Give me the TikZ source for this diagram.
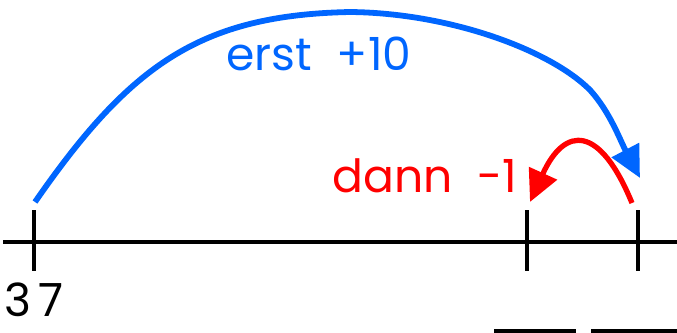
\documentclass[tikz,border=0pt]{standalone}
\usepackage{fontspec}
\setmainfont{Poppins}
\usetikzlibrary{arrows.meta}
\definecolor{jumpblue}{RGB}{0,102,255}
\definecolor{jumpred}{RGB}{255,0,0}
\tikzset{
  axis/.style={line width=2.3pt},
  jump/.style={line width=3.3pt, line cap=butt, -{Triangle[length=18pt,width=17pt]}},
  lbl/.style={font=\fontsize{26}{32}\selectfont, anchor=base, inner sep=0pt},
}
\begin{document}
\begin{tikzpicture}[x=0.02cm,y=-0.02cm]
    \useasboundingbox (0,0) rectangle (677,332);
    % Zahlenstrahl
    \draw[axis] (3,242) -- (680,242);
    \foreach \n/\x in {a/34,b/527,c/638}{
        \draw[axis] (\x,210) -- (\x,271);
    }
    \coordinate (bluestart) at (35,202);
    \coordinate (blueend) at (640,178);
    \coordinate (redstart) at (632,203);
    \coordinate (redend) at (530,202);
    % Spruenge
    \draw[jump,jumpblue] (bluestart) .. controls (130,65) and (200,15) .. (350,12)
        .. controls (450,13) and (550,50) .. (590,90)
        .. controls (610,112) and (620,140) .. (blueend);
    \draw[jump,jumpred,line width=3pt] (redstart) .. controls (600,125) and (565,125) .. (redend);
    % Beschriftung
    \node[lbl,jumpblue] (erst) at (319,70) {erst\ \ +10};
    \node[lbl,jumpred] (dann) at (425,192) {dann\ \ -1};
    \node[lbl,text depth=0pt] (start) at (34,316) {3\,7};
    % Luecken
    \draw[axis] (494,331) -- (576,331);
    \draw[axis] (591,331) -- (680,331);
\end{tikzpicture}
\end{document}
